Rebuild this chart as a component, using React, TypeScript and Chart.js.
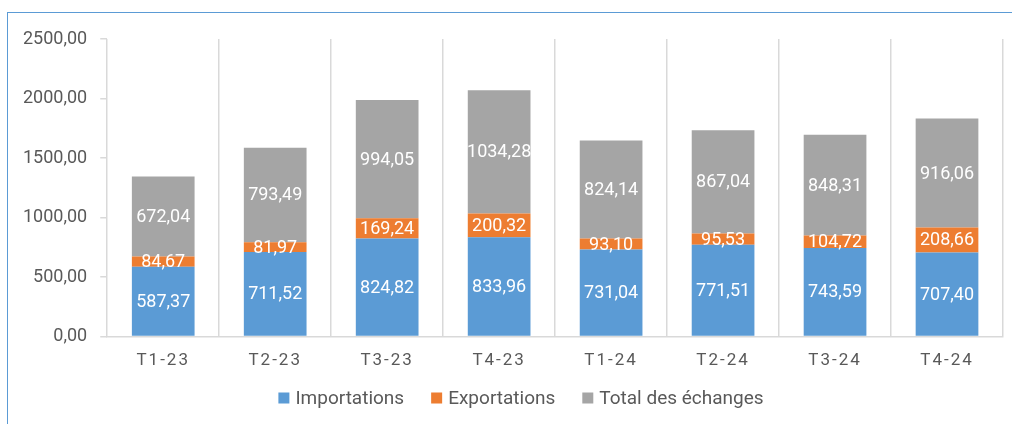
import React, { useEffect, useRef } from "react";
import { Chart, registerables, CategoryScale } from "chart.js";

Chart.register(...registerables);

class SpacedCategoryScale extends (CategoryScale as any) {
  static id = "spacedCategory";
  static defaults = (CategoryScale as any).defaults;
  drawLabels(area: any) {
    const ctx = (this as any).ctx as any;
    ctx.save();
    ctx.letterSpacing = "2px";
    super.drawLabels(area);
    ctx.restore();
  }
}
Chart.register(SpacedCategoryScale as any);

const categories = ["T1-23", "T2-23", "T3-23", "T4-23", "T1-24", "T2-24", "T3-24", "T4-24"];
const importations = [587.37, 711.52, 824.82, 833.96, 731.04, 771.51, 743.59, 707.4];
const exportations = [84.67, 81.97, 169.24, 200.32, 93.1, 95.53, 104.72, 208.66];
const totalEchanges = [672.04, 793.49, 994.05, 1034.28, 824.14, 867.04, 848.31, 916.06];
const seriesNames = ["Importations", "Exportations", "Total des échanges"];
const seriesColors = ["#5B9BD5", "#ED7D31", "#A5A5A5"];

const FONT = "Roboto";
const TEXT = "#595959";
const GRID = "#d9d9d9";

const fmt = (v: number) => v.toFixed(2).replace(".", ",");

const valueLabels = {
  id: "valueLabels",
  afterDatasetsDraw(chart: any) {
    const ctx = chart.ctx;
    ctx.save();
    ctx.font = `18px ${FONT}`;
    ctx.fillStyle = "#ffffff";
    ctx.textAlign = "center";
    ctx.textBaseline = "middle";
    chart.data.datasets.forEach((ds: any, di: number) => {
      const meta = chart.getDatasetMeta(di);
      meta.data.forEach((el: any, i: number) => {
        const { x, y, base } = el.getProps(["x", "y", "base"], true);
        ctx.fillText(fmt(ds.data[i]), x, (y + base) / 2 + 1);
      });
    });
    ctx.restore();
  },
};

// Custom bottom legend: small square, 6px gap, text, 27px between items
const customLegend = {
  id: "customLegend",
  afterDraw(chart: any) {
    const ctx = chart.ctx;
    ctx.save();
    ctx.font = `19px ${FONT}`;
    ctx.textBaseline = "middle";
    ctx.textAlign = "left";
    const box = 11;
    const gap = 6;
    const between = 27;
    const items = chart.data.datasets.map((ds: any) => ({
      text: ds.label,
      color: ds.backgroundColor,
      w: ctx.measureText(ds.label).width,
    }));
    const total =
      items.reduce((s: number, it: any) => s + box + gap + it.w, 0) + between * (items.length - 1);
    const centerX = 521;
    const cy = 398;
    let x = centerX - total / 2;
    items.forEach((it: any) => {
      ctx.fillStyle = it.color;
      ctx.fillRect(x, cy - box / 2, box, box);
      x += box + gap;
      ctx.fillStyle = TEXT;
      ctx.fillText(it.text, x, cy + 1);
      x += it.w + between;
    });
    ctx.restore();
  },
};

export default function App() {
  const ref = useRef<HTMLCanvasElement | null>(null);
  useEffect(() => {
    if (!ref.current) return;
    const data = [importations, exportations, totalEchanges];
    const chart = new Chart(ref.current, {
      type: "bar",
      data: {
        labels: categories,
        datasets: data.map((d, i) => ({
          label: seriesNames[i],
          data: d,
          backgroundColor: seriesColors[i],
          borderWidth: 0,
          barPercentage: 0.56,
          categoryPercentage: 1,
        })),
      },
      options: {
        responsive: false,
        animation: false,
        layout: { padding: { left: 10, right: 9, top: 39, bottom: 39 } },
        plugins: {
          tooltip: { enabled: false },
          legend: { display: false },
        },
        scales: {
          x: {
            type: "spacedCategory" as any,
            stacked: true,
            offset: true,
            grid: { offset: true, drawTicks: false, color: GRID, lineWidth: 1.5 },
            border: { display: true, color: GRID, width: 1.5 },
            ticks: { color: TEXT, font: { family: FONT, size: 17 }, padding: 14 },
          },
          y: {
            stacked: true,
            min: 0,
            max: 2500,
            ticks: {
              stepSize: 500,
              color: TEXT,
              font: { family: FONT, size: 18 },
              padding: 13,
              callback: (v: any) => fmt(Number(v)),
            },
            grid: { drawOnChartArea: false, drawTicks: true, tickLength: 7, color: GRID, lineWidth: 1.5 },
            border: { display: false },
          },
        },
      } as any,
      plugins: [valueLabels, customLegend],
    });
    return () => chart.destroy();
  }, []);

  return (
    <div style={{ position: "fixed", left: 0, top: 0, width: 1012, height: 424, overflow: "hidden", background: "#fff" }}>
      <div
        style={{
          position: "absolute",
          left: 7,
          top: 12,
          right: 0,
          bottom: 0,
          borderTop: "1px solid #5B9BD5",
          borderLeft: "1px solid #5B9BD5",
        }}
      />
      <canvas ref={ref} width={1012} height={424} style={{ position: "absolute", left: 0, top: 0 }} />
    </div>
  );
}
